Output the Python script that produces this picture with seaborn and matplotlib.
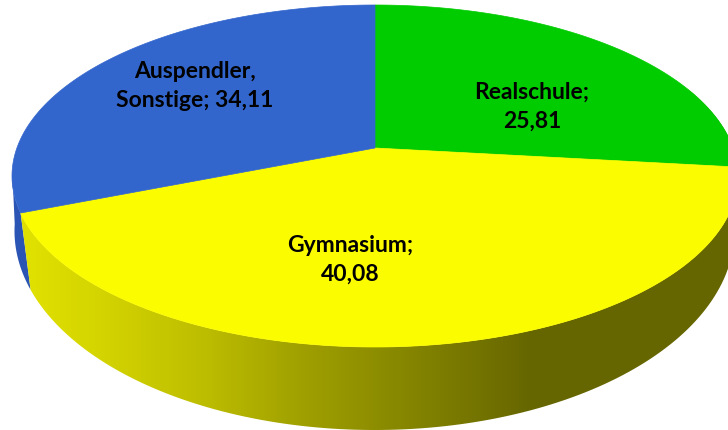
import matplotlib.pyplot as plt
import numpy as np
import seaborn as sns
from matplotlib.patches import Polygon

# %% data
categories = ["Realschule", "Gymnasium", "Auspendler,\nSonstige"]
shares = [25.81, 40.08, 34.11]
value_labels = ["25,81", "40,08", "34,11"]
separators = [";\n", ";\n", "; "]
colors = ["#00CC00", "#FCFC00", "#3366CC"]

# %% look of the fake 3d pie, in pixels
W, H = 728, 430
apex = (375, 148)
top = dict(cx=375, cy=176, a=363, b=171)
bottom = dict(cx=374.5, cy=231, a=360, b=199)
label_pos = [(532, 107), (350, 260), (195, 86)]
# the picture's perspective bends the slice borders, this moves them where they are
warp_out = [0, 87, 257.5, 360]
wall_x = [30, 100, 200, 300, 428, 530]
wall_shade = [224, 212, 190, 160, 128, 102]


def on_ellipse(e, t):
    t = np.radians(t)
    return np.column_stack(
        [e["cx"] + e["a"] * np.sin(t), e["cy"] - e["b"] * np.cos(t)]
    )


sns.set_theme(style="white")
plt.rcParams["font.family"] = ["Lato", "DejaVu Sans"]

fig, ax = plt.subplots(figsize=(W / 100, H / 100), dpi=100)
fig.subplots_adjust(0, 0, 1, 1)

wedges, _ = ax.pie(shares, colors=colors, startangle=90, counterclock=False)
warp_in = np.concatenate([[0], np.cumsum(shares) / np.sum(shares) * 360])

# %% side wall
left_t = warp_out[2]
foot_t = 252.8
blue_wall = np.vstack(
    [
        on_ellipse(top, np.linspace(left_t, 272, 30)),
        on_ellipse(bottom, np.linspace(272, foot_t, 30)),
    ]
)
ax.add_patch(Polygon(blue_wall, color="#2A55B4", lw=0, zorder=1))

yellow_wall = np.vstack(
    [
        on_ellipse(top, np.linspace(60, left_t, 150)),
        on_ellipse(bottom, np.linspace(foot_t, 60, 150)),
    ]
)
shade = np.interp(np.arange(W), wall_x, wall_shade) / 255
gradient = np.dstack([shade, shade, np.zeros(W)])
im = ax.imshow(gradient, extent=(0, W, H, 0), aspect="auto", zorder=2)
wall_patch = Polygon(yellow_wall, transform=ax.transData, fc="none", lw=0)
ax.add_patch(wall_patch)
im.set_clip_path(wall_patch)

# %% top face, from the pie's own wedges
for wedge, color in zip(wedges, colors):
    wedge.set_visible(False)
    cw = np.linspace(90 - wedge.theta2, 90 - wedge.theta1, 200)
    outline = on_ellipse(top, np.interp(cw, warp_in, warp_out))
    face = np.vstack([[apex], outline])
    ax.add_patch(Polygon(face, fc=color, ec=color, lw=0.5, zorder=3))

for cat, sep, val, (lx, ly) in zip(categories, separators, value_labels, label_pos):
    ax.text(
        lx, ly, f"{cat}{sep}{val}", ha="center", va="center", fontsize=16.5,
        fontweight="bold", color="black", linespacing=1.45, zorder=4,
    )

ax.set_aspect("auto")
ax.set_xlim(0, W)
ax.set_ylim(H, 0)
ax.axis("off")
fig.savefig("out.png", dpi=100)
